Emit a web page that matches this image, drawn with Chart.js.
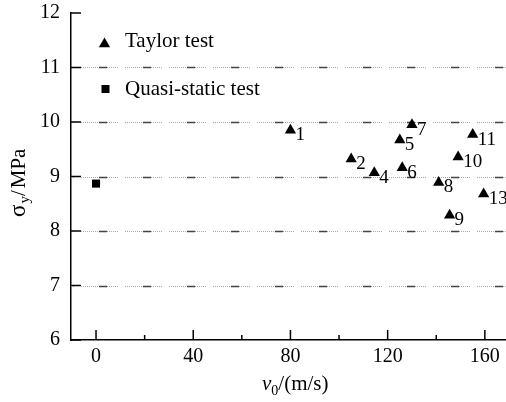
<!DOCTYPE html>
<html>
<head>
<meta charset="UTF-8">
<script src="https://cdn.jsdelivr.net/npm/chart.js"></script>
<style>
  body { margin: 0; background: #fff; }
</style>
</head>
<body>
<canvas id="myChart" width="506" height="402"></canvas>
<script>
    // data
    const taylorLabels = ['1', '2', '4', '5', '6', '7', '8', '9', '10', '11', '13'];
    const taylorV = [80, 105, 114.5, 125, 126, 130, 141, 145.5, 149, 155, 159.5];
    const taylorSigma = [9.85, 9.32, 9.07, 9.67, 9.16, 9.95, 8.89, 8.29, 9.36, 9.77, 8.68];
    const quasiV = [0];
    const quasiSigma = [8.87];
    const xTickLabels = [0, 40, 80, 120, 160];
    const seriesNames = ['Taylor test', 'Quasi-static test'];

    const serif = '"Liberation Serif", "Times New Roman", serif';

    function triangle(ctx, cx, cy, r) {
        // same shape as chart.js 'triangle' point style
        ctx.beginPath();
        ctx.moveTo(cx, cy - r);
        ctx.lineTo(cx + Math.sin(2 * Math.PI / 3) * r, cy + r / 2);
        ctx.lineTo(cx - Math.sin(2 * Math.PI / 3) * r, cy + r / 2);
        ctx.closePath();
        ctx.fill();
    }

    const decor = {
        id: 'decor',
        beforeDatasetsDraw(chart) {
            const { ctx, chartArea: a, scales: { y } } = chart;
            // dash-dot grid lines
            const dots = [];
            for (let i = 0; i < 18; i++) dots.push(1, 1);
            dots.push(1, 7);
            y.ticks.forEach(t => {
                if (t.value <= y.min || t.value >= y.max) return;
                const py = Math.round(y.getPixelForValue(t.value)) + 0.5;
                ctx.save();
                ctx.lineWidth = 1;
                ctx.lineDashOffset = 34;
                ctx.strokeStyle = '#a8a8a8';
                ctx.setLineDash(dots);
                ctx.beginPath(); ctx.moveTo(a.left, py); ctx.lineTo(a.right, py); ctx.stroke();
                ctx.strokeStyle = '#444';
                ctx.lineWidth = 1.4;
                ctx.setLineDash([0, 18, 8, 18]);
                ctx.beginPath(); ctx.moveTo(a.left, py); ctx.lineTo(a.right, py); ctx.stroke();
                ctx.restore();
            });
        },
        afterDatasetsDraw(chart) {
            const { ctx } = chart;
            // point numbers
            const meta = chart.getDatasetMeta(0);
            ctx.save();
            ctx.font = '19px ' + serif;
            ctx.fillStyle = '#000';
            ctx.textBaseline = 'alphabetic';
            ctx.textAlign = 'left';
            meta.data.forEach((p, i) => {
                ctx.fillText(taylorLabels[i], p.x + 5, p.y + 10);
            });
            ctx.restore();
        },
        afterDraw(chart) {
            const { ctx, chartArea: a, scales: { x, y } } = chart;
            ctx.save();
            ctx.strokeStyle = '#000';
            ctx.lineWidth = 1.5;
            // inward ticks
            y.ticks.forEach(t => {
                const py = y.getPixelForValue(t.value);
                ctx.beginPath(); ctx.moveTo(a.left, py); ctx.lineTo(a.left + 10, py); ctx.stroke();
            });
            x.ticks.forEach(t => {
                const px = x.getPixelForValue(t.value);
                const len = xTickLabels.includes(t.value) ? 10 : 5;
                ctx.beginPath(); ctx.moveTo(px, a.bottom); ctx.lineTo(px, a.bottom - len); ctx.stroke();
            });

            // legend
            ctx.fillStyle = '#000';
            triangle(ctx, 104.5, 44.1, 6.5);
            ctx.fillRect(101.5, 85, 8, 8);
            ctx.font = '21px ' + serif;
            ctx.textBaseline = 'alphabetic';
            ctx.fillText(seriesNames[0], 125, 47);
            ctx.fillText(seriesNames[1], 125, 95);

            // x title: v0/(m/s)
            let cx = 262;
            ctx.font = 'italic 21px ' + serif;
            ctx.fillText('v', cx, 390);
            cx += ctx.measureText('v').width;
            ctx.font = '14px ' + serif;
            ctx.fillText('0', cx, 395);
            cx += ctx.measureText('0').width;
            ctx.font = '21px ' + serif;
            ctx.fillText('/(m/s)', cx, 390);

            // y title: σy/MPa
            ctx.translate(25, 217);
            ctx.rotate(-Math.PI / 2);
            let ty = 0;
            ctx.font = '23px ' + serif;
            ctx.fillText('σ', ty, 0);
            ty += ctx.measureText('σ').width + 1;
            ctx.font = '15px ' + serif;
            ctx.fillText('y', ty, 4);
            ty += ctx.measureText('y').width;
            ctx.font = '21px ' + serif;
            ctx.fillText('/', ty, 0);
            ty += ctx.measureText('/').width + 2;
            ctx.fillText('MPa', ty, 0);
            ctx.restore();
        }
    };

    const dados = {
        datasets: [{
            label: seriesNames[0],
            data: taylorV.map((v, i) => ({ x: v, y: taylorSigma[i] })),
            pointStyle: 'triangle',
            pointRadius: 6.5,
            backgroundColor: '#000',
            borderWidth: 0
        }, {
            label: seriesNames[1],
            data: quasiV.map((v, i) => ({ x: v, y: quasiSigma[i] })),
            pointStyle: 'rect',
            pointRadius: 5.7,
            backgroundColor: '#000',
            borderWidth: 0
        }]
    };

    const config = {
        type: 'scatter',
        data: dados,
        plugins: [decor],
        options: {
            responsive: false,
            animation: false,
            layout: { autoPadding: false, padding: { top: 13, right: 0, bottom: 0, left: 0 } },
            plugins: { legend: { display: false }, tooltip: { enabled: false } },
            scales: {
                x: {
                    type: 'linear',
                    min: -10.3,
                    max: 168.7,
                    grid: { display: false, drawTicks: false },
                    border: { display: true, color: '#000', width: 1.5 },
                    ticks: {
                        stepSize: 20,
                        includeBounds: false,
                        autoSkip: false,
                        maxRotation: 0,
                        padding: 5,
                        color: '#000',
                        font: { family: serif, size: 20 },
                        callback: v => xTickLabels.includes(v) ? String(v) : ''
                    },
                    afterFit: s => { s.height = 62; s.paddingLeft = 0; s.paddingRight = 0; }
                },
                y: {
                    min: 6,
                    max: 12,
                    grid: { display: false, drawTicks: false },
                    border: { display: true, color: '#000', width: 1.5 },
                    ticks: {
                        stepSize: 1,
                        padding: 11,
                        color: '#000',
                        font: { family: serif, size: 20 }
                    },
                    afterFit: s => { s.width = 71; s.paddingTop = 0; s.paddingBottom = 0; }
                }
            }
        }
    };

    let myChart = new Chart(document.getElementById('myChart'), config);
</script>
</body>
</html>
